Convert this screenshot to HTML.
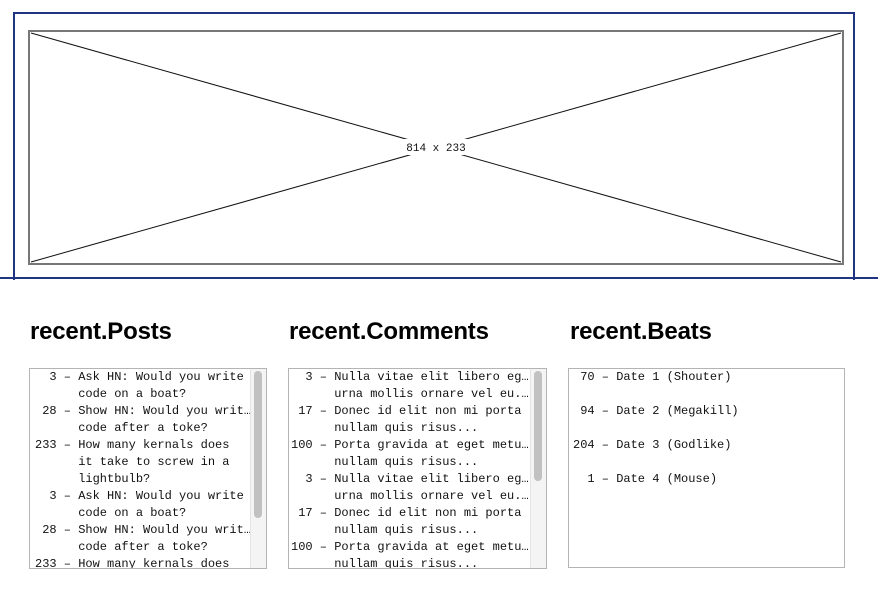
<!DOCTYPE html>
<html><head><style>
body{margin:0;width:890px;height:607px;background:#fff;position:relative;overflow:hidden;font-family:"Liberation Sans",sans-serif}
.a{position:absolute}
h2{position:absolute;margin:0;font:bold 24px "Liberation Sans",sans-serif;letter-spacing:-0.2px;color:#000;top:318px}
.box{position:absolute;border:1px solid #b4b4b4;background:#fff;overflow:hidden}
.ln{position:absolute;font:12px/17px "Liberation Mono",monospace;white-space:pre;color:#111}
.track{position:absolute;top:0;bottom:0;width:15px;background:#f4f4f4;border-left:1px solid #e4e4e4}
.thumb{position:absolute;left:3px;width:8px;background:#c1c1c1;border-radius:4px}
</style></head><body>
<div class="a" style="left:13px;top:12px;width:838px;height:266px;border:2px solid #1f3584;border-bottom:none"></div>
<div class="a" style="left:0;top:277px;width:878px;height:2px;background:#1f3584"></div>
<svg class="a" style="left:0;top:0" width="890" height="300">
<rect x="29" y="31" width="814" height="233" fill="#fff" stroke="#777" stroke-width="2"/>
<line x1="31" y1="33" x2="841" y2="262" stroke="#111" stroke-width="1"/>
<line x1="841" y1="33" x2="31" y2="262" stroke="#111" stroke-width="1"/>
<rect x="402" y="139" width="68" height="16" fill="#fff"/>
<text x="436" y="151" text-anchor="middle" font-family="Liberation Mono,monospace" font-size="11" fill="#111">814 x 233</text>
</svg>
<h2 style="left:30px">recent.Posts</h2>
<h2 style="left:289px">recent.Comments</h2>
<h2 style="left:570px">recent.Beats</h2>

<div class="box" style="left:29px;top:368px;width:236px;height:199px">
<div class="ln" style="left:5px;top:0">  3 – Ask HN: Would you write
      code on a boat?
 28 – Show HN: Would you writ…
      code after a toke?
233 – How many kernals does
      it take to screw in a
      lightbulb?
  3 – Ask HN: Would you write
      code on a boat?
 28 – Show HN: Would you writ…
      code after a toke?
233 – How many kernals does</div>
<div class="track" style="left:220px"><div class="thumb" style="top:2px;height:147px"></div></div>
</div>

<div class="box" style="left:288px;top:368px;width:257px;height:199px">
<div class="ln" style="left:2px;top:0">  3 – Nulla vitae elit libero eg…
      urna mollis ornare vel eu.…
 17 – Donec id elit non mi porta
      nullam quis risus...
100 – Porta gravida at eget metu…
      nullam quis risus...
  3 – Nulla vitae elit libero eg…
      urna mollis ornare vel eu.…
 17 – Donec id elit non mi porta
      nullam quis risus...
100 – Porta gravida at eget metu…
      nullam quis risus...</div>
<div class="track" style="left:241px"><div class="thumb" style="top:2px;height:110px"></div></div>
</div>

<div class="box" style="left:568px;top:368px;width:275px;height:198px">
<div class="ln" style="left:4px;top:0"> 70 – Date 1 (Shouter)

 94 – Date 2 (Megakill)

204 – Date 3 (Godlike)

  1 – Date 4 (Mouse)</div>
</div>
</body></html>
